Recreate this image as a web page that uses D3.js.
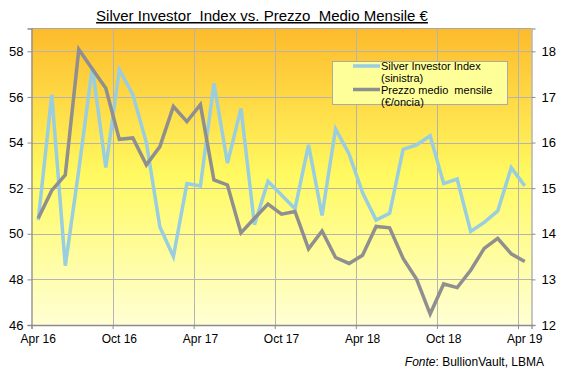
<!DOCTYPE html>
<html lang="it">
<head>
<meta charset="UTF-8">
<script src="https://d3js.org/d3.v7.min.js"></script>
<title>Silver Investor Index</title>
<style>
  body { margin: 0; background: #fff; }
  text { font-family: "Liberation Sans", Arial, sans-serif; fill: #000; }
</style>
</head>
<body>
<div id="chart"></div>
<script>
// months Apr 2016 .. Apr 2019
var months = ["2016-04","2016-05","2016-06","2016-07","2016-08","2016-09","2016-10","2016-11","2016-12",
  "2017-01","2017-02","2017-03","2017-04","2017-05","2017-06","2017-07","2017-08","2017-09","2017-10","2017-11","2017-12",
  "2018-01","2018-02","2018-03","2018-04","2018-05","2018-06","2018-07","2018-08","2018-09","2018-10","2018-11","2018-12",
  "2019-01","2019-02","2019-03","2019-04"];

// Silver Investor Index (left axis)
var sii = [50.6, 56.1, 48.6, 52.8, 57.3, 52.9, 57.2, 56.1, 54.0, 50.3, 49.0, 52.2, 52.1,
  56.6, 53.1, 55.5, 50.4, 52.3, 51.7, 51.1, 53.9, 50.8, 54.6, 53.5, 51.8, 50.6, 50.9,
  53.7, 53.9, 54.3, 52.2, 52.4, 50.1, 50.5, 51.0, 52.9, 52.1];

// prezzo medio mensile, €/oncia (right axis)
var prezzo = [14.34, 14.95, 15.29, 18.04, 17.61, 17.19, 16.07, 16.10, 15.51, 15.91, 16.79, 16.46, 16.83,
  15.18, 15.07, 14.02, 14.34, 14.65, 14.43, 14.49, 13.67, 14.06, 13.48, 13.35, 13.53, 14.16, 14.13,
  13.46, 13.00, 12.24, 12.90, 12.82, 13.20, 13.68, 13.90, 13.56, 13.39];

var xTickLabels = ["Apr 16","Oct 16","Apr 17","Oct 17","Apr 18","Oct 18","Apr 19"];
var leftTicks = [46, 48, 50, 52, 54, 56, 58];
var rightTicks = [12, 13, 14, 15, 16, 17, 18];

var W = 566, H = 372;
var plot = {left: 31.5, right: 531.5, top: 28.5, bottom: 325};

var svg = d3.select("#chart").append("svg")
  .attr("width", W).attr("height", H);

// background gradient
var grad = svg.append("defs").append("linearGradient")
  .attr("id", "bg").attr("x1", 0).attr("y1", 0).attr("x2", 0).attr("y2", 1);
grad.append("stop").attr("offset", "0%").attr("stop-color", "#fdbb2b");
grad.append("stop").attr("offset", "50%").attr("stop-color", "#fffa62");
grad.append("stop").attr("offset", "100%").attr("stop-color", "#ffffd4");

var x = d3.scaleLinear().domain([0, months.length]).range([plot.left, plot.right]);
var yL = d3.scaleLinear().domain([46, 59]).range([plot.bottom, plot.top]);
var yR = d3.scaleLinear().domain([12, 18.5]).range([plot.bottom, plot.top]);

svg.append("rect")
  .attr("x", plot.left).attr("y", plot.top)
  .attr("width", plot.right - plot.left).attr("height", plot.bottom - plot.top)
  .attr("fill", "url(#bg)");

// grid
var tickIdx = xTickLabels.map(function(d, i) { return i * 6; });
svg.append("g").selectAll("line").data(tickIdx.slice(1)).enter().append("line")
  .attr("x1", function(d) { return Math.round(x(d)) + 0.5; })
  .attr("x2", function(d) { return Math.round(x(d)) + 0.5; })
  .attr("y1", plot.top).attr("y2", plot.bottom)
  .attr("stroke", "#b4b4b4").attr("stroke-width", 1);
svg.append("g").selectAll("line").data(leftTicks.slice(1)).enter().append("line")
  .attr("x1", plot.left).attr("x2", plot.right)
  .attr("y1", function(d) { return Math.round(yL(d)) + 0.5; })
  .attr("y2", function(d) { return Math.round(yL(d)) + 0.5; })
  .attr("stroke", "#b4b4b4").attr("stroke-width", 1);

// frame
svg.append("line").attr("x1", plot.left).attr("x2", plot.right)
  .attr("y1", plot.top).attr("y2", plot.top).attr("stroke", "#a8a8a8");

// axes
var axL = svg.append("g").attr("transform", "translate(" + plot.left + ",0)")
  .call(d3.axisLeft(yL).tickValues(leftTicks).tickSize(4).tickPadding(4).tickFormat(d3.format("d")));
var axR = svg.append("g").attr("transform", "translate(" + plot.right + ",0)")
  .call(d3.axisRight(yR).tickValues(rightTicks).tickSize(4).tickPadding(6).tickFormat(d3.format("d")));
var axB = svg.append("g").attr("transform", "translate(0," + plot.bottom + ")")
  .call(d3.axisBottom(x).tickValues(tickIdx).tickSize(4).tickFormat(""));

[axL, axR, axB].forEach(function(a) {
  a.select(".domain").attr("stroke", "#8c8c8c").attr("stroke-width", 1.3);
  a.selectAll(".tick line").attr("stroke", "#8c8c8c");
  a.selectAll("text").attr("font-size", 13).attr("font-family", "Liberation Sans, Arial, sans-serif").attr("fill", "#000");
});
axR.select(".domain").attr("stroke", "#a8a8a8");

// x labels centred on the month
svg.append("g").selectAll("text").data(xTickLabels).enter().append("text")
  .attr("x", function(d, i) { return x(i * 6 + 0.5); })
  .attr("y", 343)
  .attr("text-anchor", "middle")
  .attr("font-size", 12)
  .text(function(d) { return d; });

// lines
var lineL = d3.line().x(function(d, i) { return x(i + 0.5); }).y(function(d) { return yL(d); });
var lineR = d3.line().x(function(d, i) { return x(i + 0.5); }).y(function(d) { return yR(d); });

svg.append("path").datum(sii).attr("d", lineL)
  .attr("fill", "none").attr("stroke", "#99cde0").attr("stroke-width", 3.5).attr("stroke-linejoin", "miter");
svg.append("path").datum(prezzo).attr("d", lineR)
  .attr("fill", "none").attr("stroke", "#8f8f8f").attr("stroke-width", 3.5).attr("stroke-linejoin", "miter");

// legend
var lg = svg.append("g");
lg.append("rect").attr("x", 332.5).attr("y", 61.5).attr("width", 175).attr("height", 43)
  .attr("fill", "#ffff99").attr("stroke", "#aaaaaa");
var legendItems = [
  {lines: ["Silver Investor Index", "(sinistra)"], color: "#99cde0"},
  {lines: ["Prezzo medio  mensile", "(€/oncia)"], color: "#8f8f8f"}
];
legendItems.forEach(function(it, k) {
  var ly = 66 + k * 23.5;
  lg.append("line").attr("x1", 353).attr("x2", 380).attr("y1", ly).attr("y2", ly)
    .attr("stroke", it.color).attr("stroke-width", 3.5);
  it.lines.forEach(function(t, j) {
    lg.append("text").attr("x", 381).attr("y", ly + 4 + j * 12)
      .attr("font-size", 11).style("white-space", "pre").text(t);
  });
});

// title
svg.append("text").attr("x", 262).attr("y", 21)
  .attr("text-anchor", "middle").attr("font-size", 15)
  .attr("text-decoration", "underline")
  .style("white-space", "pre")
  .text("Silver Investor  Index vs. Prezzo  Medio Mensile €");

// source
var src = svg.append("text").attr("x", 544).attr("y", 366).attr("text-anchor", "end").attr("font-size", 12);
src.append("tspan").attr("font-style", "italic").text("Fonte");
src.append("tspan").text(": BullionVault, LBMA");
</script>
</body>
</html>
